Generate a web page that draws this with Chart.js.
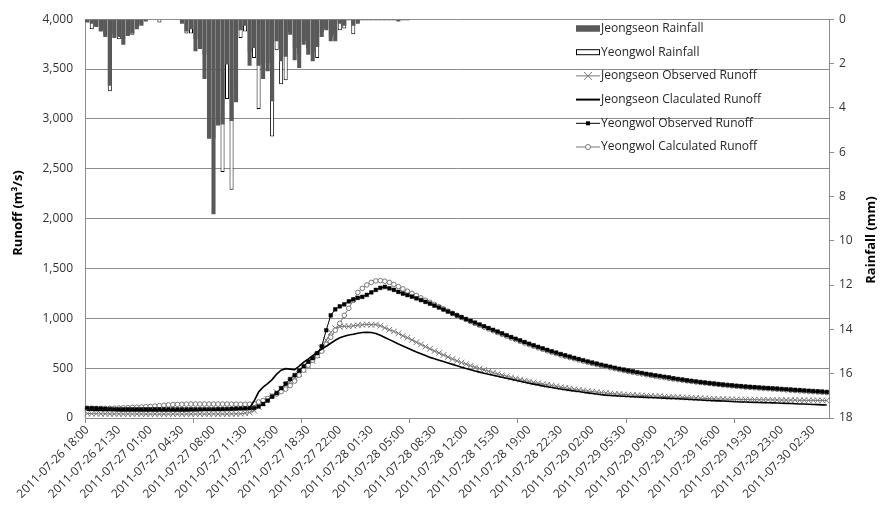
<!DOCTYPE html>
<html>
<head>
<meta charset="utf-8">
<script src="https://cdn.jsdelivr.net/npm/chart.js@4.4.0/dist/chart.umd.min.js"></script>
<style>
  html, body { margin: 0; padding: 0; background: #fff; }
  #wrap { position: relative; width: 882px; height: 522px; }
</style>
</head>
<body>
<div id="wrap"><canvas id="chart" width="882" height="522"></canvas></div>
<script>
// --- data, 30-minute steps from 2011-07-26 18:00 ---
const START_DAY = 26;
const START_MIN = 18 * 60;

// rainfall (mm), only the first 72 steps carry rain
const jeongseonRain = [
  0.15, 0.2, 0.35, 0.55, 0.8, 3.0, 0.85, 0.8, 1.15, 0.75, 0.65, 0.45, 0.3, 0.1,
  0.03, 0.03, 0.03, 0.03, 0.03, 0.03, 0,
  0.2, 0.55, 0.45, 1.45, 1.35, 2.7, 5.4, 8.8, 4.8, 4.75, 2.05, 4.6, 3.75, 0.5, 0.3,
  2.1, 1.3, 2.1, 2.7, 2.35, 3.7, 1.0, 1.9, 1.7, 0.7, 1.85, 2.2, 1.15, 1.6, 1.9, 1.25,
  0.8, 0.5, 1.0, 1.0, 0.2, 0.3, 0.05, 0.3, 0.2,
  0.05, 0.05, 0.05, 0.05, 0.05, 0.05, 0.05, 0.05, 0.1, 0.05, 0.05
];
const yeongwolRain = [
  0.1, 0.45, 0.3, 0.5, 0.7, 3.25, 0.7, 0.9, 0.9, 0.75, 0.7, 0.35, 0.25, 0.05,
  0, 0.02, 0.15, 0.02, 0, 0, 0,
  0.1, 0.65, 0.65, 0.9, 1.1, 1.6, 3.0, 5.4, 4.0, 6.9, 3.6, 7.7, 3.0, 0.85, 0.55,
  1.5, 1.75, 4.05, 2.0, 2.0, 5.3, 1.4, 2.94, 2.76, 0.6, 1.3, 1.6, 1.0, 1.3, 1.5, 1.75,
  0.6, 0.4, 0.8, 0.7, 0.5, 0.42, 0.05, 0.68, 0.1,
  0.05, 0.05, 0.05, 0.05, 0.05, 0.05, 0.05, 0.05, 0.05, 0.05, 0.05
];

// runoff (m3/s)
const jeongseonObs = [
  45, 44, 43, 42, 42, 41, 41, 40, 40, 40,
  40, 40, 40, 39, 39, 39, 39, 39, 39, 39,
  39, 39, 39, 39, 39, 40, 40, 40, 40, 40,
  40, 40, 41, 41, 42, 48, 55, 75, 110, 150,
  190, 225, 260, 295, 330, 365, 400, 440, 480, 525,
  570, 630, 700, 780, 860, 900, 915, 920, 918, 925,
  930, 935, 938, 935, 937, 925, 905, 885, 868, 848,
  825, 805, 783, 760, 738, 716, 694, 672, 652, 632,
  612, 592, 573, 556, 540, 524, 508, 495, 482, 468,
  455, 442, 430, 418, 406, 395, 385, 375, 366, 357,
  348, 340, 333, 326, 318, 310, 302, 295, 288, 282,
  276, 270, 265, 260, 255, 250, 246, 242, 239, 236,
  233, 230, 228, 226, 224, 222, 220, 218, 215, 213,
  211, 209, 207, 205, 203, 200, 198, 196, 194, 192,
  190, 189, 188, 187, 186, 185, 185, 184, 184, 183,
  183, 182, 182, 181, 180, 180, 179, 179, 178, 178,
  177, 177, 176, 176, 175
];
const jeongseonCalc = [
  78, 77, 76, 76, 75, 75, 75, 74, 74, 74,
  74, 74, 73, 73, 73, 73, 73, 73, 73, 73,
  73, 74, 74, 75, 76, 77, 78, 79, 80, 81,
  82, 83, 84, 85, 88, 92, 100, 170, 260, 310,
  345, 385, 440, 480, 495, 490, 485, 520, 560, 590,
  625, 660, 690, 720, 750, 780, 805, 820, 832, 840,
  850, 858, 860, 858, 848, 830, 808, 786, 765, 742,
  722, 702, 682, 662, 644, 626, 608, 594, 580, 566,
  552, 538, 524, 510, 497, 484, 472, 460, 449, 438,
  428, 418, 408, 398, 388, 378, 368, 358, 349, 340,
  332, 322, 314, 306, 298, 291, 284, 277, 271, 265,
  258, 252, 246, 240, 234, 229, 226, 223, 220, 218,
  215, 213, 211, 209, 207, 205, 203, 201, 199, 197,
  195, 193, 190, 188, 186, 183, 181, 178, 176, 174,
  172, 170, 168, 165, 163, 161, 160, 158, 157, 156,
  154, 153, 152, 150, 148, 147, 145, 143, 141, 140,
  138, 136, 134, 132, 130
];
const yeongwolObs = [
  100, 100, 98, 95, 92, 90, 88, 88, 87, 87,
  87, 86, 86, 86, 86, 86, 86, 86, 86, 86,
  86, 86, 86, 87, 87, 87, 88, 88, 88, 89,
  89, 90, 92, 94, 95, 96, 98, 100, 115, 140,
  175, 215, 250, 300, 345, 390, 430, 475, 520, 565,
  600, 650, 720, 880, 1030, 1090, 1120, 1140, 1170, 1190,
  1205, 1215, 1235, 1260, 1285, 1305, 1315, 1300, 1285, 1265,
  1248, 1233, 1217, 1200, 1183, 1165, 1147, 1128, 1108, 1088,
  1068, 1049, 1030, 1011, 992, 974, 956, 938, 920, 902,
  884, 866, 848, 830, 812, 795, 778, 761, 745, 729,
  713, 698, 683, 669, 655, 641, 628, 615, 603, 591,
  579, 567, 556, 545, 534, 524, 514, 504, 494, 485,
  476, 467, 459, 451, 443, 435, 428, 421, 414, 407,
  398, 391, 385, 378, 372, 366, 360, 355, 350, 345,
  340, 335, 331, 327, 323, 319, 315, 312, 309, 306,
  303, 300, 297, 294, 291, 288, 285, 282, 279, 276,
  273, 270, 267, 264, 261
];
const yeongwolCalc = [
  95, 95, 95, 96, 96, 97, 98, 100, 102, 104,
  106, 108, 110, 113, 116, 120, 124, 128, 132, 135,
  137, 138, 139, 140, 140, 140, 140, 140, 140, 140,
  140, 140, 139, 139, 138, 138, 138, 145, 160, 175,
  195, 218, 240, 265, 290, 325, 370, 430, 480, 530,
  580, 625, 670, 740, 810, 880, 950, 1030, 1100, 1180,
  1260, 1300, 1335, 1360, 1375, 1378, 1372, 1360, 1340, 1318,
  1295, 1272, 1250, 1228, 1205, 1182, 1160, 1138, 1116, 1094,
  1072, 1050, 1030, 1008, 988, 968, 948, 930, 911, 893,
  875, 857, 839, 821, 803, 786, 769, 752, 736, 720,
  704, 689, 674, 660, 646, 632, 619, 606, 594, 582,
  570, 558, 547, 536, 525, 515, 505, 495, 485, 476,
  467, 458, 450, 442, 434, 426, 419, 412, 405, 398,
  391, 385, 379, 373, 367, 361, 356, 351, 346, 341,
  336, 331, 327, 322, 318, 314, 310, 307, 303, 300,
  297, 294, 291, 288, 285, 282, 279, 276, 273, 270,
  267, 264, 261, 258, 255
];

// category labels (every step), only every 7th is printed
const timeLabels = [];
for (let i = 0; i < jeongseonObs.length; i++) {
  const m = START_MIN + i * 30;
  const day = START_DAY + Math.floor(m / 1440);
  const hh = String(Math.floor((m % 1440) / 60)).padStart(2, '0');
  const mi = String(m % 60).padStart(2, '0');
  timeLabels.push(`2011-07-${day} ${hh}:${mi}`);
}

const FONT = "'Open Sans', 'Noto Sans', sans-serif";
const TEXT = '#333333';
const GRID = '#8c8c8c';
const GRAY = '#777777';
const RAIN = '#595959';

const legendItems = [
  { label: 'Jeongseon Rainfall', kind: 'bar', fill: RAIN, stroke: RAIN },
  { label: 'Yeongwol Rainfall', kind: 'bar', fill: '#ffffff', stroke: '#000000' },
  { label: 'Jeongseon Observed Runoff', kind: 'line', color: GRAY, marker: 'x' },
  { label: 'Jeongseon Claculated Runoff', kind: 'line', color: '#000000', width: 2 },
  { label: 'Yeongwol Observed Runoff', kind: 'line', color: '#000000', marker: 'square' },
  { label: 'Yeongwol Calculated Runoff', kind: 'line', color: GRAY, marker: 'circle' },
];

// axis titles + legend inside the plot
const overlay = {
  id: 'overlay',
  afterDraw(chart) {
    const { ctx } = chart;
    ctx.save();
    ctx.fillStyle = '#000';
    ctx.font = `bold 13px ${FONT}`;
    ctx.textAlign = 'center';
    ctx.textBaseline = 'middle';
    ctx.save();
    ctx.translate(18, 213);
    ctx.rotate(-Math.PI / 2);
    ctx.fillText('Runoff (m\u00B3/s)', 0, 0);
    ctx.restore();
    ctx.save();
    ctx.translate(871, 240);
    ctx.rotate(-Math.PI / 2);
    ctx.fillText('Rainfall (mm)', 0, 0);
    ctx.restore();

    // legend
    const x0 = 576, sw = 24, tx = 601;
    ctx.font = `12px ${FONT}`;
    ctx.textAlign = 'left';
    legendItems.forEach((it, k) => {
      const y = 28.5 + k * 23.7;
      if (it.kind === 'bar') {
        ctx.fillStyle = it.fill;
        ctx.fillRect(x0, y - 3, sw, 6);
        ctx.strokeStyle = it.stroke;
        ctx.lineWidth = 1;
        ctx.strokeRect(x0 + 0.5, y - 2.5, sw - 1, 5);
      } else {
        ctx.strokeStyle = it.color;
        ctx.lineWidth = it.width || 1;
        ctx.beginPath();
        ctx.moveTo(x0, y);
        ctx.lineTo(x0 + sw, y);
        ctx.stroke();
        const cx = x0 + sw / 2;
        ctx.lineWidth = 1;
        if (it.marker === 'x') {
          ctx.beginPath();
          ctx.moveTo(cx - 4, y - 4); ctx.lineTo(cx + 4, y + 4);
          ctx.moveTo(cx - 4, y + 4); ctx.lineTo(cx + 4, y - 4);
          ctx.stroke();
        } else if (it.marker === 'square') {
          ctx.fillStyle = '#000';
          ctx.fillRect(cx - 2, y - 2, 4, 4);
        } else if (it.marker === 'circle') {
          ctx.fillStyle = '#fff';
          ctx.beginPath();
          ctx.arc(cx, y, 2.5, 0, Math.PI * 2);
          ctx.fill();
          ctx.stroke();
        }
      }
      ctx.fillStyle = '#262626';
      ctx.textBaseline = 'middle';
      ctx.fillText(it.label, tx, y);
    });
    ctx.restore();
  },
};

new Chart(document.getElementById('chart'), {
  type: 'bar',
  data: {
    labels: timeLabels,
    datasets: [
      {
        type: 'line', label: 'Yeongwol Observed Runoff', data: yeongwolObs, yAxisID: 'y', order: 1,
        borderColor: '#000', borderWidth: 1, pointStyle: 'rect', pointRadius: 2.6,
        pointBackgroundColor: '#000', pointBorderColor: '#000', pointBorderWidth: 0.5,
      },
      {
        type: 'line', label: 'Jeongseon Claculated Runoff', data: jeongseonCalc, yAxisID: 'y', order: 2,
        borderColor: '#000', borderWidth: 1.6, pointRadius: 0,
      },
      {
        type: 'line', label: 'Yeongwol Calculated Runoff', data: yeongwolCalc, yAxisID: 'y', order: 3,
        borderColor: GRAY, borderWidth: 1, pointStyle: 'circle', pointRadius: 2.3,
        pointBackgroundColor: '#fff', pointBorderColor: GRAY, pointBorderWidth: 1,
      },
      {
        type: 'line', label: 'Jeongseon Observed Runoff', data: jeongseonObs, yAxisID: 'y', order: 4,
        borderColor: GRAY, borderWidth: 1, pointStyle: 'crossRot', pointRadius: 4,
        pointBorderColor: GRAY, pointBorderWidth: 1,
      },
      {
        label: 'Jeongseon Rainfall', data: jeongseonRain, yAxisID: 'y2', order: 5,
        backgroundColor: RAIN, borderWidth: 0, grouped: false,
        barPercentage: 0.9, categoryPercentage: 1.0,
      },
      {
        label: 'Yeongwol Rainfall', data: yeongwolRain, yAxisID: 'y2', order: 6,
        backgroundColor: '#fff', borderColor: '#000', borderWidth: 1, grouped: false,
        barPercentage: 0.9, categoryPercentage: 1.0,
      },
    ],
  },
  options: {
    responsive: false,
    animation: false,
    layout: { padding: { top: 14, left: 0, right: 0, bottom: 0 } },
    plugins: { legend: { display: false }, tooltip: { enabled: false } },
    scales: {
      x: {
        offset: true,
        grid: {
          offset: true, drawOnChartArea: false, tickLength: 5,
          color: (c) => (c.index % 24 === 0 ? GRID : 'rgba(0,0,0,0)'),
        },
        border: { color: GRID },
        ticks: {
          autoSkip: false, minRotation: 45, maxRotation: 45, padding: 0,
          font: { family: FONT, size: 12 }, color: TEXT,
          callback: (v, i) => (i % 7 === 0 ? timeLabels[i] : ''),
        },
        afterFit: (s) => { s.height = 104; },
      },
      y: {
        position: 'left', min: 0, max: 4000,
        grid: { color: GRID, drawTicks: false },
        border: { color: GRID },
        ticks: {
          stepSize: 500, padding: 12, font: { family: FONT, size: 12 }, color: TEXT,
          callback: (v) => v.toLocaleString('en-US'),
        },
        afterFit: (s) => { s.width = 85; },
      },
      y2: {
        position: 'right', reverse: true, min: 0, max: 18,
        grid: { drawOnChartArea: false, tickLength: 5, color: GRID },
        border: { color: GRID },
        ticks: { stepSize: 2, padding: 5, font: { family: FONT, size: 12 }, color: TEXT },
        afterFit: (s) => { s.width = 53; },
      },
    },
  },
  plugins: [overlay],
});
</script>
</body>
</html>
